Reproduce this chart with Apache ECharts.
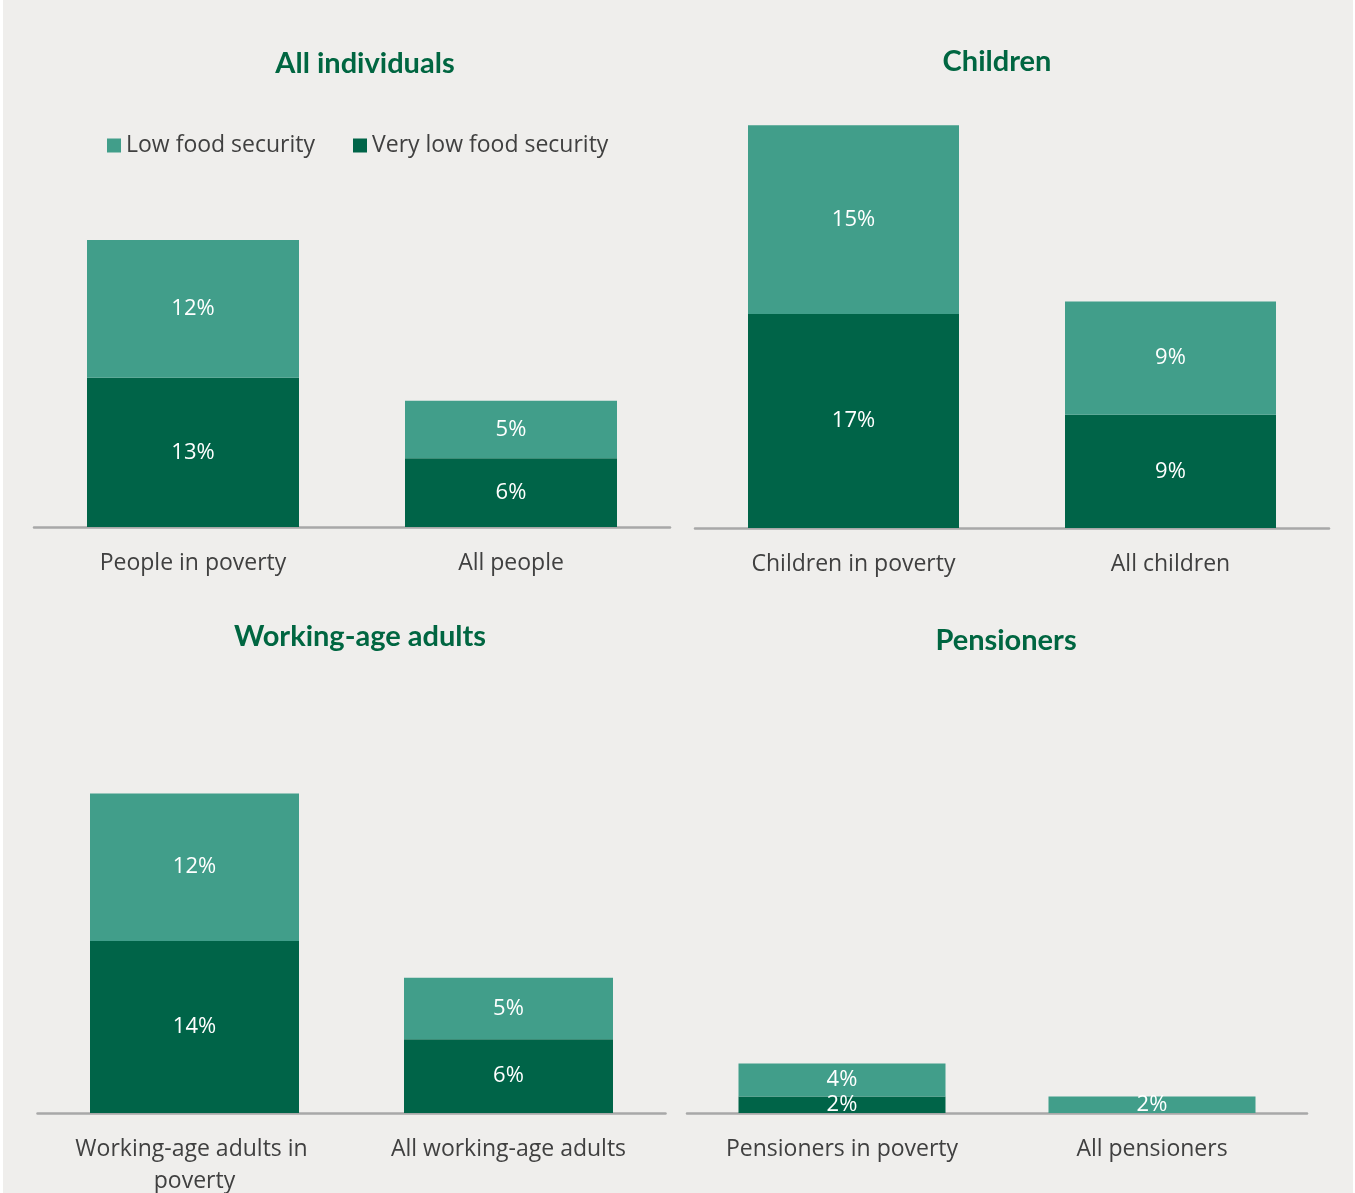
<!DOCTYPE html>
<html>
<head>
<meta charset="utf-8">
<title>Food insecurity by group</title>
<script src="https://cdn.jsdelivr.net/npm/echarts@6/dist/echarts.min.js"></script>
<style>
  html, body { margin: 0; padding: 0; background: #ffffff; }
  #chart { position: absolute; left: 3px; top: 0; width: 1350px; height: 1193px; background: #EFEEEC; }
</style>
</head>
<body>
<div id="chart"></div>
<script>
// Share of each group in low / very low food security (%)
const seriesNames = ['Low food security', 'Very low food security'];
const panelTitles = ['All individuals', 'Children', 'Working-age adults', 'Pensioners'];

const categoriesAll = ['People in poverty', 'All people'];
const lowAll = [12, 5];
const veryLowAll = [13, 6];

const categoriesChildren = ['Children in poverty', 'All children'];
const lowChildren = [15, 9];
const veryLowChildren = [17, 9];

const categoriesWorking = ['Working-age adults in poverty', 'All working-age adults'];
const lowWorking = [12, 5];
const veryLowWorking = [14, 6];

const categoriesPensioners = ['Pensioners in poverty', 'All pensioners'];
const lowPensioners = [4, 2];
const veryLowPensioners = [2, null];

const panels = [
  { title: panelTitles[0], cats: categoriesAll, low: lowAll, veryLow: veryLowAll },
  { title: panelTitles[1], cats: categoriesChildren, low: lowChildren, veryLow: veryLowChildren },
  { title: panelTitles[2], cats: categoriesWorking, low: lowWorking, veryLow: veryLowWorking },
  { title: panelTitles[3], cats: categoriesPensioners, low: lowPensioners, veryLow: veryLowPensioners }
];

// Layout of each panel (pixels inside the chart box) and its value-axis ceiling
const layout = [
  { left: 31,   width: 636, top: 100, height: 427, yMax: 37.2, barWidth: 212, titleX: 357,  titleY: 44 },
  { left: 692,  width: 634, top: 100, height: 428, yMax: 34,   barWidth: 211, titleX: 989,  titleY: 42 },
  { left: 34.5, width: 628, top: 700, height: 413, yMax: 33.6, barWidth: 209, titleX: 352,  titleY: 617 },
  { left: 684,  width: 620, top: 700, height: 413, yMax: 50,   barWidth: 207, titleX: 998,  titleY: 621 }
];

const COLOR_LOW = '#419E8A';
const COLOR_VERY_LOW = '#006448';
const TEXT = '#404040';
const TITLE_GREEN = '#006641';
const BODY_FONT = '"Open Sans", "Noto Sans", sans-serif';

const chart = echarts.init(document.getElementById('chart'), null, { renderer: 'canvas' });

const grid = [], xAxis = [], yAxis = [], series = [], title = [];

panels.forEach((p, i) => {
  const L = layout[i];
  grid.push({
    left: L.left, top: L.top, width: L.width, height: L.height,
    containLabel: false, outerBoundsMode: 'none'
  });
  title.push({
    text: p.title, left: L.titleX, top: L.titleY, textAlign: 'center',
    textStyle: { fontFamily: 'Lato, "Open Sans", sans-serif', fontWeight: 'bold', fontSize: 29, color: TITLE_GREEN }
  });
  xAxis.push({
    type: 'category', gridIndex: i, data: p.cats,
    axisLine: { lineStyle: { color: '#A8A8A8', width: 2.5 } },
    axisTick: { show: false },
    axisLabel: {
      fontFamily: BODY_FONT, fontSize: 23, color: TEXT, margin: 20,
      lineHeight: 32, width: 255, overflow: 'break', interval: 0
    }
  });
  yAxis.push({ type: 'value', gridIndex: i, min: 0, max: L.yMax, show: false, splitLine: { show: false } });

  const label = {
    show: true, position: 'inside', color: '#ffffff',
    fontFamily: BODY_FONT, fontSize: 22,
    formatter: (d) => (d.value == null ? '' : d.value + '%')
  };
  series.push({
    name: seriesNames[1], type: 'bar', stack: 'g' + i, xAxisIndex: i, yAxisIndex: i,
    data: p.veryLow, barWidth: L.barWidth, itemStyle: { color: COLOR_VERY_LOW },
    label: label, silent: true
  });
  series.push({
    name: seriesNames[0], type: 'bar', stack: 'g' + i, xAxisIndex: i, yAxisIndex: i,
    data: p.low, barWidth: L.barWidth, itemStyle: { color: COLOR_LOW },
    label: label, silent: true
  });
});

chart.setOption({
  backgroundColor: '#EFEEEC',
  animation: false,
  title: title,
  legend: {
    data: seriesNames,
    left: 99, top: 129,
    icon: 'rect', itemWidth: 14, itemHeight: 14, itemGap: 38,
    textStyle: { fontFamily: BODY_FONT, fontSize: 23, color: TEXT, padding: [0, 0, 0, 0] },
    selectedMode: false
  },
  grid: grid,
  xAxis: xAxis,
  yAxis: yAxis,
  series: series
});
</script>
</body>
</html>
